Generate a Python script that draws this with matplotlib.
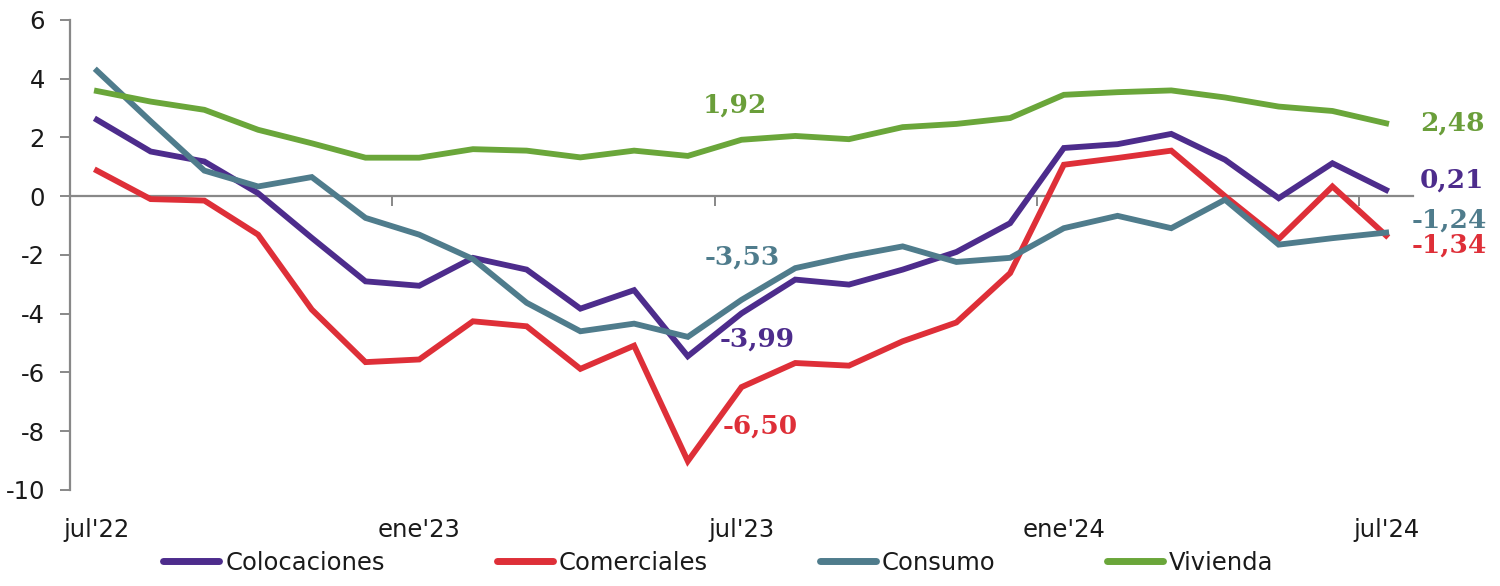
import matplotlib
matplotlib.use("Agg")
import matplotlib.pyplot as plt

months = ["jul'22", "ago'22", "sep'22", "oct'22", "nov'22", "dic'22",
          "ene'23", "feb'23", "mar'23", "abr'23", "may'23", "jun'23",
          "jul'23", "ago'23", "sep'23", "oct'23", "nov'23", "dic'23",
          "ene'24", "feb'24", "mar'24", "abr'24", "may'24", "jun'24", "jul'24"]

colocaciones = [2.60, 1.52, 1.18, 0.10, -1.42, -2.90, -3.05, -2.10, -2.50, -3.83,
                -3.20, -5.45, -3.99, -2.84, -3.01, -2.50, -1.90, -0.92, 1.64, 1.77,
                2.12, 1.24, -0.07, 1.12, 0.21]
comerciales = [0.87, -0.10, -0.15, -1.31, -3.86, -5.65, -5.56, -4.26, -4.43, -5.88,
               -5.09, -9.02, -6.50, -5.68, -5.77, -4.94, -4.30, -2.62, 1.07, 1.30,
               1.55, 0.00, -1.46, 0.33, -1.34]
consumo = [4.27, 2.55, 0.87, 0.33, 0.65, -0.74, -1.31, -2.14, -3.63, -4.60,
           -4.34, -4.79, -3.53, -2.45, -2.05, -1.71, -2.24, -2.10, -1.09, -0.67,
           -1.09, -0.12, -1.65, -1.43, -1.24]
vivienda = [3.58, 3.22, 2.94, 2.26, 1.80, 1.31, 1.31, 1.60, 1.55, 1.32,
            1.55, 1.37, 1.92, 2.05, 1.94, 2.35, 2.46, 2.66, 3.45, 3.54,
            3.60, 3.36, 3.05, 2.90, 2.48]

series_names = ["Colocaciones", "Comerciales", "Consumo", "Vivienda"]
series_values = [colocaciones, comerciales, consumo, vivienda]
colors = ["#4D2C8C", "#DE2F38", "#4F7C8C", "#6AA63A"]
label_colors = ["#4D2C8C", "#DE2F38", "#4F7C8C", "#6A9E3A"]

label_ticks = [0, 6, 12, 18, 24]
boundary_ticks = [5.5, 11.5, 17.5, 23.5]
y_ticks = [6, 4, 2, 0, -2, -4, -6, -8, -10]

fig = plt.figure(figsize=(15, 5.86), dpi=100)
ax = fig.add_axes([0.0467, 0.164, 0.8953, 0.802])

x = list(range(len(months)))
for name, vals, c in zip(series_names, series_values, colors):
    ax.plot(x, vals, color=c, lw=4.2, label=name, solid_joinstyle="miter", zorder=3)

ax.set_xlim(-0.5, 24.5)
ax.set_ylim(-10, 6)
ax.set_yticks(y_ticks)
ax.set_yticklabels([str(v) for v in y_ticks])

spine_c = "#888888"
for s in ["top", "right"]:
    ax.spines[s].set_visible(False)
ax.spines["left"].set_color(spine_c)
ax.spines["left"].set_linewidth(1.6)
ax.spines["bottom"].set_position(("data", 0))
ax.spines["bottom"].set_color(spine_c)
ax.spines["bottom"].set_linewidth(1.6)
ax.spines["bottom"].set_zorder(2)

ax.set_xticks(boundary_ticks)
ax.set_xticklabels([])
ax.tick_params(axis="x", direction="out", length=7, width=1.4, color=spine_c)
ax.tick_params(axis="y", direction="out", length=7, width=1.4, color=spine_c,
               labelsize=17.5, pad=11, labelcolor="#1a1a1a")

sec = ax.secondary_xaxis(0)
sec.set_xticks(label_ticks)
sec.set_xticklabels([months[i] for i in label_ticks])
sec.spines["bottom"].set_visible(False)
sec.tick_params(axis="x", length=0, labelsize=17.5, pad=20, labelcolor="#1a1a1a")

# value labels
ann = [
    ("1,92", 11.88, 3.11, 3),
    ("-3,53", 12.01, -2.06, 2),
    ("-3,99", 12.29, -4.88, 0),
    ("-6,50", 12.35, -7.84, 1),
    ("2,48", 25.23, 2.50, 3),
    ("0,21", 25.23, 0.56, 0),
    ("-1,24", 25.18, -0.80, 2),
    ("-1,34", 25.18, -1.65, 1),
]
for txt, tx, ty, si in ann:
    ax.text(tx, ty, txt, color=label_colors[si], fontsize=19, fontweight="bold",
            family="DejaVu Serif", ha="center", va="center", clip_on=False)

leg = fig.legend(loc="center", bbox_to_anchor=(0.479, 0.040), ncol=4, frameon=False,
                 fontsize=17.5, handlelength=2.3, handletextpad=0.25, columnspacing=4.6)
for h in leg.get_lines():
    h.set_linewidth(5)
    h.set_solid_capstyle("round")
for t in leg.get_texts():
    t.set_color("#1a1a1a")

fig.savefig("out.png", dpi=100)
